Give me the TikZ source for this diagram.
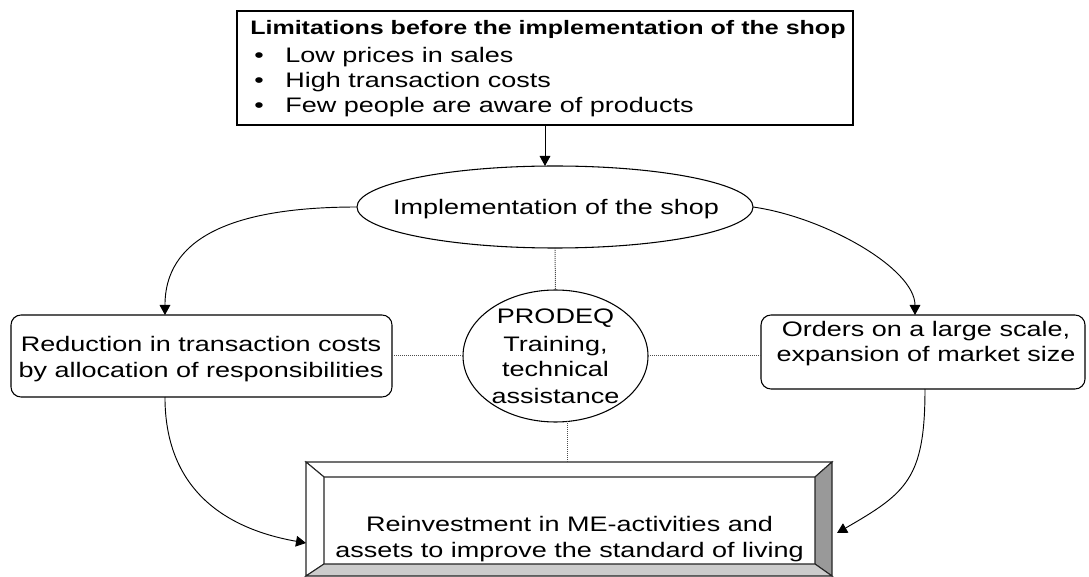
\documentclass[tikz,border=0pt]{standalone}
\usepackage{fontspec}
\setmainfont{Liberation Sans}[FakeStretch=1.286]
\usetikzlibrary{shapes.geometric,arrows.meta,calc}
\newcommand\fsreg{\fontsize{15.75pt}{19.5pt}\selectfont}
\newcommand\fsbold{\fontsize{14.6pt}{18pt}\selectfont\bfseries}
\tikzset{
 shapebox/.style={draw=black, line width=0.8pt, inner sep=0pt, outer sep=0pt},
 roundbox/.style={shapebox, rounded corners=7.5pt},
 ellbox/.style={shapebox, ellipse},
 plainbox/.style={inner sep=0pt, outer sep=0pt},
 txt/.style={anchor=base, inner sep=0pt, font=\fsreg},
 arr/.style={-{Triangle[length=7.5pt,width=8pt]}, line width=0.7pt, draw=black},
 dotl/.style={line width=0.75pt, draw=black!70, dash pattern=on 0.75pt off 0.75pt},
 bevel/.style={draw=black!85, line width=0.8pt, line join=miter},
}
\begin{document}
\begin{tikzpicture}[x=0.75pt,y=0.75pt]
\fill[white] (0,0) rectangle (1089,-577);
\useasboundingbox (0,0) rectangle (1089,-577);

% top box
\node[shapebox, minimum width=462pt, minimum height=85.5pt] (lim) at (545,-68) {};
\node[txt, anchor=base west, font=\fsbold] (lim0) at (250,-35) {Limitations before the implementation of the shop};
\node[txt, anchor=base west] (b1) at (254,-63) {•};
\node[txt, anchor=base west] (b2) at (254,-88) {•};
\node[txt, anchor=base west] (b3) at (254,-113) {•};
\node[txt, anchor=base west] (l1) at (285,-63) {Low prices in sales};
\node[txt, anchor=base west] (l2) at (285,-88) {High transaction costs};
\node[txt, anchor=base west] (l3) at (285,-113) {Few people are aware of products};

% implementation ellipse
\node[ellbox, minimum width=297pt, minimum height=61.5pt] (impl) at (555,-207) {};
\node[txt] (implt) at (556,-215) {Implementation of the shop};

% PRODEQ circle
\node[ellbox, minimum width=138.75pt, minimum height=99pt] (prodeq) at (555.5,-356) {};
\node[txt] (p1) at (555.5,-324) {PRODEQ};
\node[txt] (p2) at (555.5,-351) {Training,};
\node[txt] (p3) at (555.5,-377) {technical};
\node[txt] (p4) at (555.5,-403) {assistance};

% left box
\node[roundbox, minimum width=285.75pt, minimum height=61.5pt] (red) at (201.5,-356) {};
\node[txt] (r1) at (201,-352) {Reduction in transaction costs};
\node[txt] (r2) at (201,-378) {by allocation of responsibilities};

% right box
\node[roundbox, minimum width=243pt, minimum height=55.5pt] (ord) at (923,-352) {};
\node[txt] (o1) at (926,-337) {Orders on a large scale,};
\node[txt] (o2) at (926,-362) {expansion of market size};

% bottom bevelled box
\node[plainbox, minimum width=394.5pt, minimum height=85.5pt] (reinv) at (569,-519) {};
\node[plainbox, minimum width=368.25pt, minimum height=65.25pt] (reinvin) at (569.5,-520.5) {};
\filldraw[bevel, fill=white] (reinv.north west) -- (reinv.north east) -- (reinvin.north east) -- (reinvin.north west) -- cycle;
\filldraw[bevel, fill=white] (reinv.north west) -- (reinvin.north west) -- (reinvin.south west) -- (reinv.south west) -- cycle;
\filldraw[bevel, fill=black!40] (reinv.north east) -- (reinv.south east) -- (reinvin.south east) -- (reinvin.north east) -- cycle;
\filldraw[bevel, fill=black!20] (reinv.south west) -- (reinv.south east) -- (reinvin.south east) -- (reinvin.south west) -- cycle;
\node[txt] (s1) at (569.5,-531) {Reinvestment in ME-activities and};
\node[txt] (s2) at (569.5,-557) {assets to improve the standard of living};

% connector end points
\coordinate (redin) at ([xshift=-27.4pt]red.north);
\coordinate (redout) at ([xshift=-27.4pt]red.south);
\coordinate (ordin) at ([xshift=-6pt]ord.north);
\coordinate (ordout) at ([xshift=1.5pt]ord.south);
\coordinate (reinvL) at ([yshift=-18pt]reinv.west);
\coordinate (reinvR) at ([xshift=3.75pt,yshift=-10.5pt]reinv.east);

% arrows
\draw[arr] (lim.south) -- (lim.south |- impl.north);
\draw[arr] (impl.west) to[out=180,in=90,out distance=99pt,in distance=55pt] (redin);
\draw[arr] (impl.east) to[out=-8,in=90,out distance=54pt,in distance=35pt] (ordin);
\draw[arr] (redout) to[out=-90,in=170,out distance=67.5pt,in distance=64pt] (reinvL);
\draw[arr] (ordout) to[out=-90,in=30,out distance=67.5pt,in distance=60pt] (reinvR);

% dotted links
\draw[dotl] (impl.south) -- (prodeq.north);
\draw[dotl] (red.east) -- (prodeq.west);
\draw[dotl] (prodeq.east) -- (prodeq.east -| ord.west);
\draw[dotl] (prodeq.-80) -- (prodeq.-80 |- reinv.north);
\end{tikzpicture}
\end{document}
